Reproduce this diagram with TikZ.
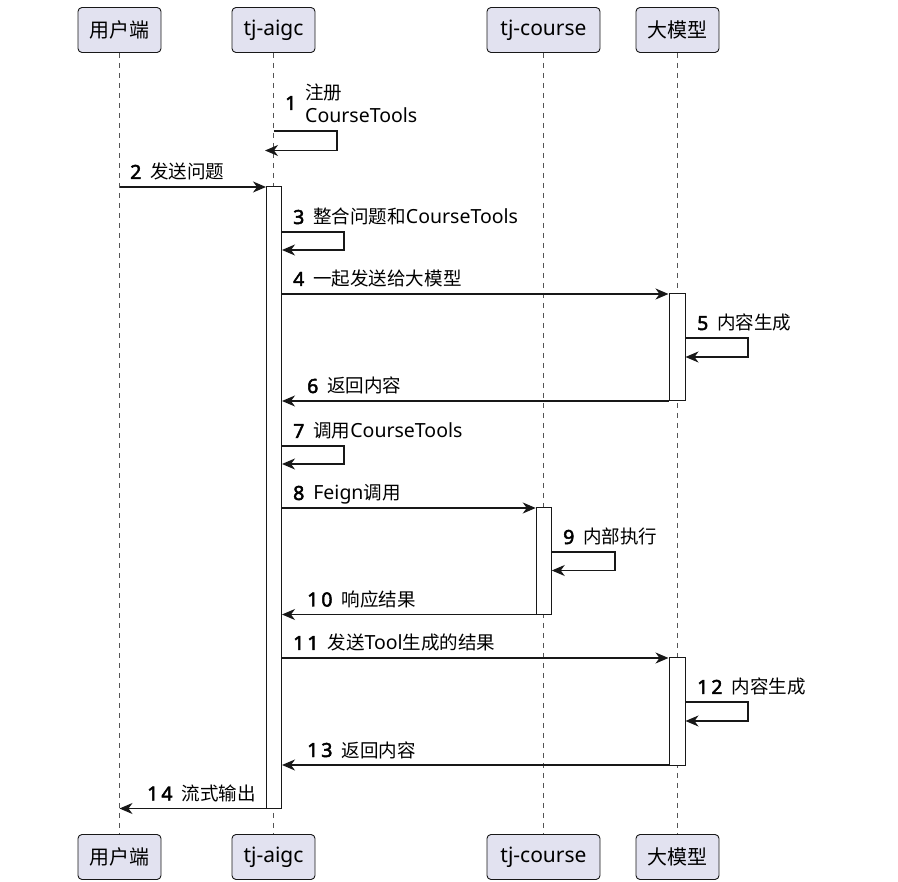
\documentclass[tikz,border=0pt]{standalone}
\usepackage{fontspec}
\setmainfont{Noto Sans}[AutoFakeBold=2.5]
\newfontfamily\cjk{Noto Sans CJK SC}[Scale=0.95]
\usetikzlibrary{arrows.meta}
\definecolor{partyfill}{HTML}{E2E2F0}
\definecolor{linec}{HTML}{181818}
\definecolor{lifec}{HTML}{555555}
\newcommand{\seqno}[1]{{\bfseries #1}\hspace{9pt}}

\begin{document}
\begin{tikzpicture}[x=1pt,y=-1pt,
  party/.style={draw=linec,fill=partyfill,rounded corners=4pt,line width=0.9pt,inner sep=0pt,minimum height=45pt,font=\fontsize{21}{25}\selectfont},
  actbox/.style={draw=linec,fill=white,line width=1pt,inner sep=0pt,minimum width=15pt},
  lifeline/.style={draw=lifec,line width=0.8pt,dash pattern=on 5pt off 5pt},
  msg/.style={draw=linec,line width=1.2pt,-{Stealth[length=13pt,width=11pt,inset=4pt]}},
  lbl/.style={anchor=base west,inner sep=0pt,font=\fontsize{19.5}{23}\selectfont}]
\useasboundingbox (0,0) rectangle (898,882);

% participants, top and bottom
\begin{scope}[every node/.style=party]
    \node[minimum width=83pt] (uTop) at (119.5,30) {\cjk 用户端};
    \node[minimum width=83pt] (aTop) at (273.5,30) {tj-aigc};
    \node[minimum width=113pt] (cTop) at (543.5,30) {tj-course};
    \node[minimum width=83pt] (mTop) at (677.5,30) {\cjk 大模型};
    \node[minimum width=83pt] (uBot) at (119.5,857) {\cjk 用户端};
    \node[minimum width=83pt] (aBot) at (273.5,857) {tj-aigc};
    \node[minimum width=113pt] (cBot) at (543.5,857) {tj-course};
    \node[minimum width=83pt] (mBot) at (677.5,857) {\cjk 大模型};
\end{scope}

\draw[lifeline] (uTop) -- (uBot);
\draw[lifeline] (aTop) -- (aBot);
\draw[lifeline] (cTop) -- (cBot);
\draw[lifeline] (mTop) -- (mBot);

% activations
\node[actbox,minimum height=621.5pt] (aAct) at (274,497.75) {};
\node[actbox,minimum width=16pt,minimum height=107pt] (mAct1) at (677,347.5) {};
\node[actbox,minimum height=106.5pt] (cAct) at (543.75,561.25) {};
\node[actbox,minimum width=16pt,minimum height=107pt] (mAct2) at (677,711.5) {};

% messages
\coordinate (regEnd) at (265,150.5);
\draw[msg] (aTop |- 0,131) -| (337,150.5) -- (regEnd);
\draw[msg] (uTop |- 0,187) -- (aAct.west |- 0,187);
\draw[msg] (aAct.east |- 0,232) -| (344,250) -- (aAct.east |- 0,250);
\draw[msg] (aAct.east |- 0,294) -- (mAct1.west |- 0,294);
\draw[msg] (mAct1.east |- 0,338) -| (748,357) -- (mAct1.east |- 0,357);
\draw[msg] (mAct1.west |- 0,401) -- (aAct.east |- 0,401);
\draw[msg] (aAct.east |- 0,446) -| (344,464) -- (aAct.east |- 0,464);
\draw[msg] (aAct.east |- 0,508) -- (cAct.west |- 0,508);
\draw[msg] (cAct.east |- 0,552) -| (615,570.5) -- (cAct.east |- 0,570.5);
\draw[msg] (cAct.west |- 0,614.5) -- (aAct.east |- 0,614.5);
\draw[msg] (aAct.east |- 0,658) -- (mAct2.west |- 0,658);
\draw[msg] (mAct2.east |- 0,702) -| (748,721) -- (mAct2.east |- 0,721);
\draw[msg] (mAct2.west |- 0,765) -- (aAct.east |- 0,765);
\draw[msg] (aAct.west |- 0,808.5) -- (uTop |- 0,808.5);

% labels
\begin{scope}[every node/.style=lbl]
    \node (l1n) at (285,110) {\bfseries 1};
    \node (l1a) at (305,100) {\cjk 注册};
    \node (l1b) at (305,123) {CourseTools};
    \node (l2) at (130,179) {\seqno{2}{\cjk 发送问题}};
    \node (l3) at (293,224) {\seqno{3}{\cjk 整合问题和}CourseTools};
    \node (l4) at (293,286) {\seqno{4}{\cjk 一起发送给大模型}};
    \node (l5) at (697,330) {\seqno{5}{\cjk 内容生成}};
    \node (l6) at (307,393) {\seqno{6}{\cjk 返回内容}};
    \node (l7) at (293,438) {\seqno{7}{\cjk 调用}CourseTools};
    \node (l8) at (293,500) {\seqno{8}Feign{\cjk 调用}};
    \node (l9) at (563,544) {\seqno{9}{\cjk 内部执行}};
    \node (l10) at (307,606.5) {\seqno{1\hspace{3pt}0}{\cjk 响应结果}};
    \node (l11) at (293,650) {\seqno{1\hspace{3pt}1}{\cjk 发送}Tool{\cjk 生成的结果}};
    \node (l12) at (697,694) {\seqno{1\hspace{3pt}2}{\cjk 内容生成}};
    \node (l13) at (307,757) {\seqno{1\hspace{3pt}3}{\cjk 返回内容}};
    \node (l14) at (147,800.5) {\seqno{1\hspace{3pt}4}{\cjk 流式输出}};
\end{scope}
\end{tikzpicture}
\end{document}
